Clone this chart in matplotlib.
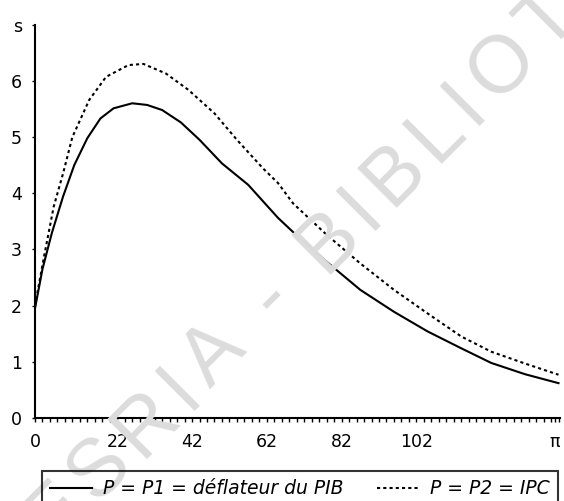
import math
import matplotlib
matplotlib.use("Agg")
import matplotlib.pyplot as plt
from matplotlib.ticker import FixedLocator, MultipleLocator

plt.rcParams['font.family'] = ['DejaVu Sans']

# ---- data ----
x_p1 = [0, 2, 4.5, 7.5, 10.5, 14, 17.5, 21, 26, 30, 34, 39, 44, 50, 57,
        65, 69, 78, 87, 96, 105, 114, 122, 131, 140]
s_p1 = [1.95, 2.65, 3.29, 3.94, 4.50, 4.98, 5.33, 5.51, 5.60, 5.57, 5.48,
        5.26, 4.95, 4.53, 4.15, 3.56, 3.31, 2.78, 2.28, 1.89, 1.54, 1.24,
        0.98, 0.78, 0.62]

x_p2 = [0, 2.5, 5, 7.5, 10, 14.5, 19, 25, 29, 35, 41, 48, 54, 61, 65, 69,
        78, 87, 96, 105, 114, 122, 131, 140]
s_p2 = [2.0, 2.9, 3.76, 4.35, 5.0, 5.66, 6.07, 6.28, 6.30, 6.13, 5.84, 5.42,
        4.95, 4.44, 4.18, 3.82, 3.26, 2.75, 2.28, 1.86, 1.45, 1.18, 0.97, 0.77]

label_p1 = "P = P1 = déflateur du PIB"
label_p2 = "P = P2 = IPC"

x_tick_pos = [0, 22, 42, 62, 82, 102, 139]
x_tick_lab = ["0", "22", "42", "62", "82", "102", "π"]
y_tick_pos = [0, 1, 2, 3, 4, 5, 6, 7]
y_tick_lab = ["0", "1", "2", "3", "4", "5", "6", "s"]

watermark = "ESRIA - BIBLIOT"

W, H = 564, 501
fig = plt.figure(figsize=(W / 100, H / 100), dpi=100)

# ---- watermark of the scanned page (letter-spaced, rotated) ----
wm_size = 58
em = wm_size * 100 / 72.0
adv = {"E": .667, "S": .667, "R": .722, "I": .278, "A": .667, " ": .278,
       "-": .333, "B": .667, "L": .556, "O": .778, "T": .611}
track = 9.0
theta = math.radians(45)
d = (math.cos(theta), -math.sin(theta))
n = (-math.sin(theta), -math.cos(theta))
hyph_px = (270.0, 297.0)
lift = 0.28 * em
base_h = (hyph_px[0] - lift * n[0], hyph_px[1] - lift * n[1])
cums = []
c = 0.0
for ch in watermark:
    cums.append(c)
    c += adv[ch] * em + track
ih = watermark.index("-")
off = cums[ih] + adv["-"] * em / 2
start = (base_h[0] - off * d[0], base_h[1] - off * d[1])
for ch, cu in zip(watermark, cums):
    if ch == " ":
        continue
    px = start[0] + cu * d[0]
    py = start[1] + cu * d[1]
    fig.text(px / W, 1 - py / H, ch, fontsize=wm_size,
             family="Liberation Sans", color="#dcdcdc",
             rotation=math.degrees(theta), ha="left", va="baseline",
             rotation_mode="anchor", zorder=0)

ax = fig.add_axes([35 / W, 1 - 418 / H, (560 - 35) / W, (418 - 24.6) / H])
ax.patch.set_alpha(0)

ax.plot(x_p1, s_p1, color="black", lw=1.5, label=label_p1)
ax.plot(x_p2, s_p2, color="black", lw=1.5, linestyle=(0, (1.5, 1.5)),
        label=label_p2)

ax.set_xlim(0, 140.4)
ax.set_ylim(0, 7)

for side in ("top", "right"):
    ax.spines[side].set_visible(False)
for side in ("left", "bottom"):
    ax.spines[side].set_linewidth(1.5)

ax.xaxis.set_major_locator(FixedLocator(x_tick_pos))
ax.set_xticklabels(x_tick_lab)
ax.xaxis.set_minor_locator(MultipleLocator(2))
ax.yaxis.set_major_locator(FixedLocator(y_tick_pos))
ax.set_yticklabels(y_tick_lab)

ax.tick_params(axis="x", which="both", direction="out", length=3, width=1,
               labelsize=12.5, pad=8)
ax.tick_params(axis="y", which="major", direction="out", length=2.5,
               width=1, labelsize=12.5, pad=7)

leg = fig.legend(loc="upper left",
                 bbox_to_anchor=(42 / W, 0, (558 - 42) / W, 1 - 471 / H),
                 mode="expand", ncol=2, frameon=True, fancybox=False,
                 edgecolor="black", facecolor="none", handlelength=2.2,
                 handletextpad=0.6, borderpad=0.45, borderaxespad=0,
                 prop={"size": 13.5, "style": "italic"})
leg.get_frame().set_linewidth(1.5)

fig.savefig("out.png", dpi=100)
